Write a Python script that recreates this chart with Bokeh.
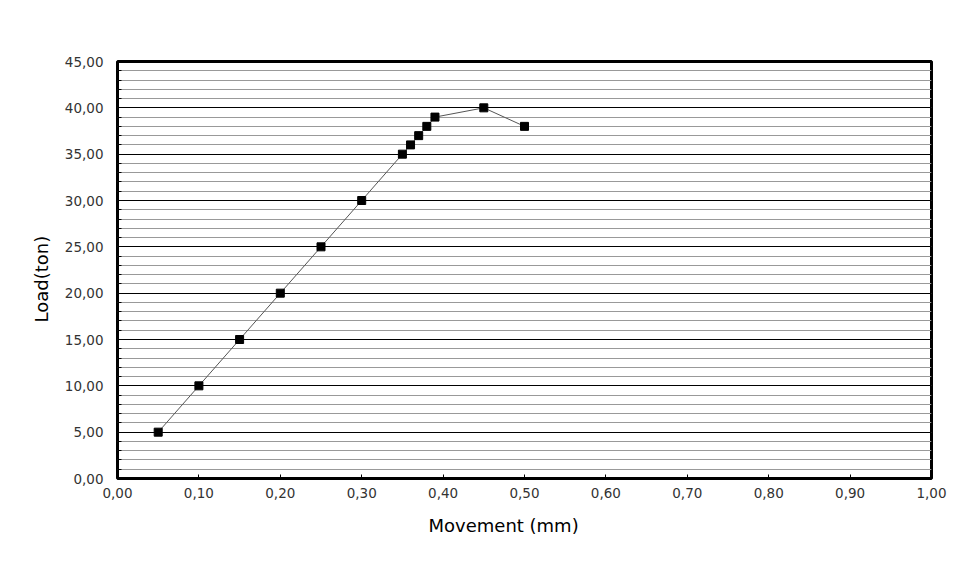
from bokeh.plotting import figure
from bokeh.models import FixedTicker, Range1d, Title
from bokeh.embed import file_html
from bokeh.resources import INLINE

movement = [0.05, 0.10, 0.15, 0.20, 0.25, 0.30, 0.35, 0.36, 0.37, 0.38, 0.39, 0.45, 0.50]
load = [5, 10, 15, 20, 25, 30, 35, 36, 37, 38, 39, 40, 38]

x_ticks = [round(i * 0.1, 2) for i in range(11)]
y_ticks = [i * 5 for i in range(10)]
y_minor = list(range(0, 46))

def comma(v):
    return f"{v:.2f}".replace(".", ",")

p = figure(width=969, height=587, output_backend="svg", toolbar_location=None,
           x_range=Range1d(0, 1.0), y_range=Range1d(0, 45),
           min_border_left=117, min_border_right=38, min_border_top=61, min_border_bottom=109)
p.background_fill_color = "white"
p.border_fill_color = "white"
p.outline_line_color = "black"
p.outline_line_width = 3

p.xaxis.ticker = FixedTicker(ticks=x_ticks)
p.xaxis.major_label_overrides = {t: comma(t) for t in x_ticks}
p.yaxis.ticker = FixedTicker(ticks=y_ticks, minor_ticks=y_minor)
p.yaxis.major_label_overrides = {t: comma(t) for t in y_ticks}

font = "DejaVu Sans"
for ax in (p.xaxis, p.yaxis):
    ax.axis_line_color = None
    ax.major_label_text_font = font
    ax.major_label_text_font_size = "13.5px"
    ax.major_label_text_color = "#333333"

p.xaxis.major_tick_in = 4
p.xaxis.major_tick_out = 0
p.xaxis.minor_tick_line_color = None
p.xaxis.major_label_standoff = 9

p.yaxis.major_tick_in = 0
p.yaxis.major_tick_out = 0
p.yaxis.minor_tick_in = 4
p.yaxis.minor_tick_out = 0
p.yaxis.major_label_standoff = 14

p.xgrid.grid_line_color = None
p.ygrid.grid_line_color = "black"
p.ygrid.grid_line_width = 1
p.ygrid.minor_grid_line_color = "#999999"
p.ygrid.minor_grid_line_width = 1

p.line(movement, load, line_color="#555555", line_width=1)
p.scatter(movement, load, marker="square", size=8, fill_color="black", line_color="black")

# axis titles, offset from the frame centre like the original
p.add_layout(Title(text="Movement (mm)", text_font=font, text_font_size="18px",
                   text_font_style="normal", text_color="black",
                   align="left", offset=311, standoff=25), "below")
p.add_layout(Title(text="Load(ton)", text_font=font, text_font_size="18px",
                   text_font_style="normal", text_color="black",
                   align="left", offset=156, standoff=19), "left")

open("out.html", "w").write(file_html(p, INLINE))
